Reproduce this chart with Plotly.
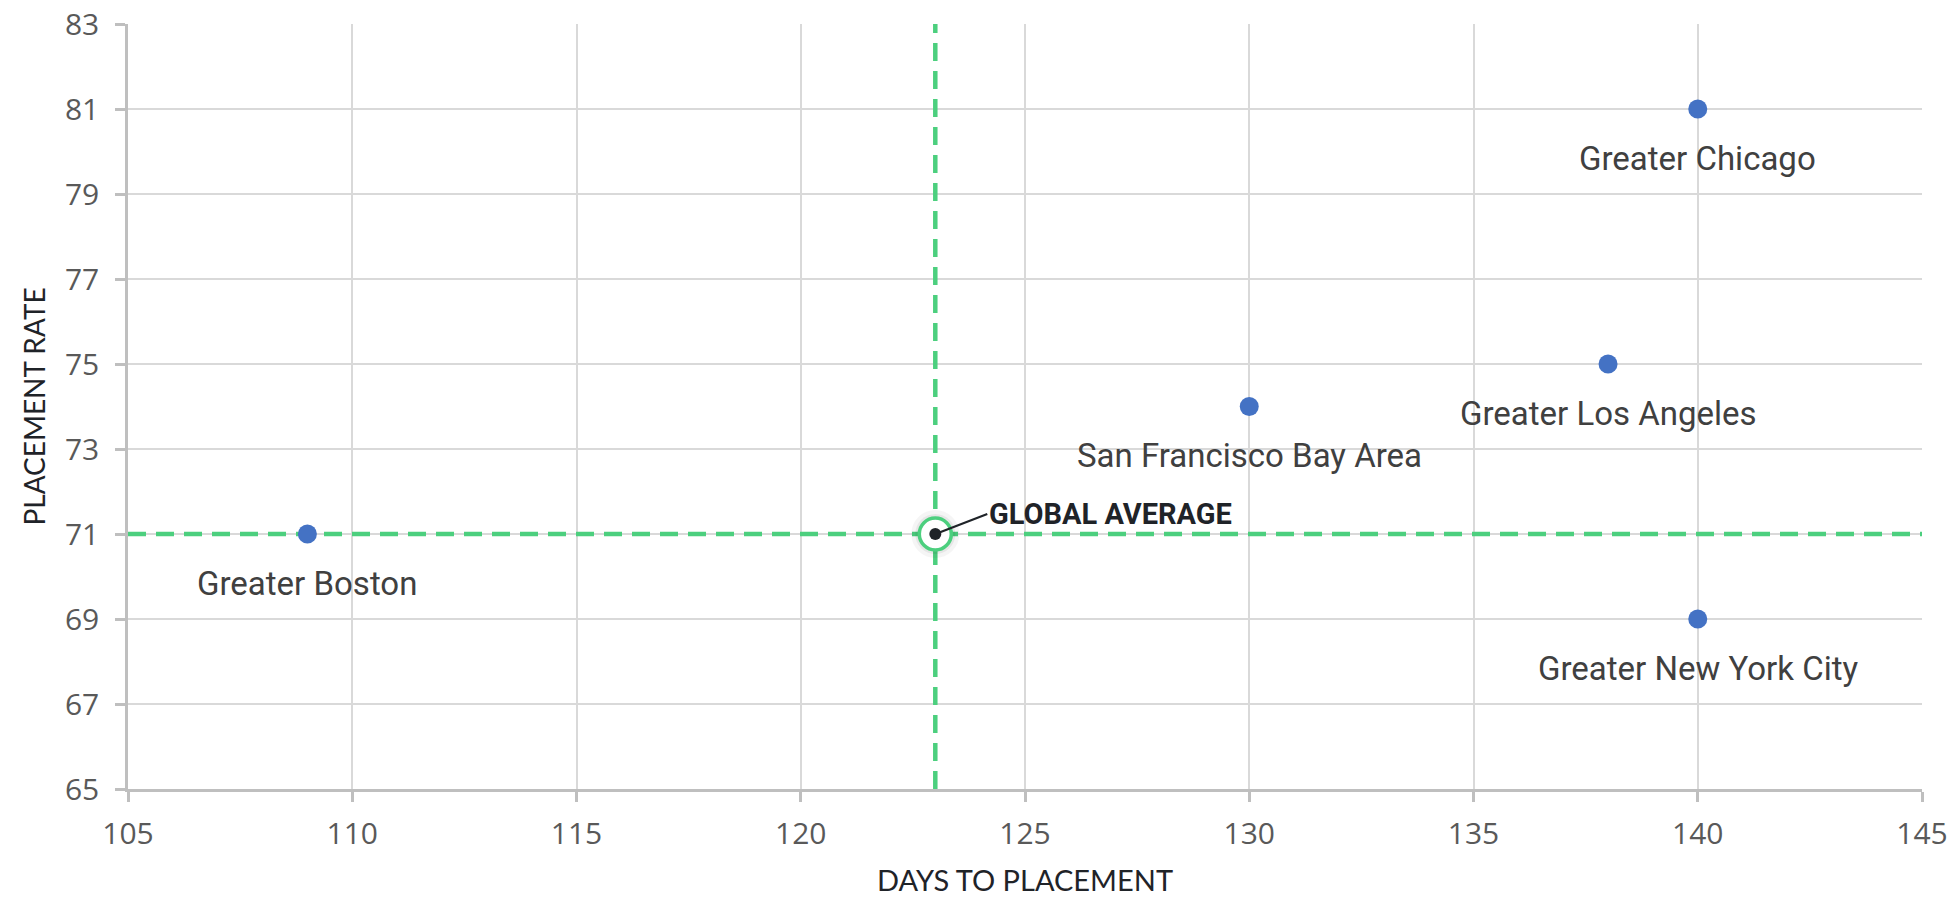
import plotly.graph_objects as go

# Metro areas: days to placement vs placement rate
cities = [
    "Greater Boston",
    "San Francisco Bay Area",
    "Greater Los Angeles",
    "Greater Chicago",
    "Greater New York City",
]
days = [109, 130, 138, 140, 140]
rate = [71, 74, 75, 81, 69]

avg_label = "GLOBAL AVERAGE"
avg_days = 123
avg_rate = 71

x_range = [105, 145]
y_range = [65, 83]

GREEN = "#4ccf7e"
BLUE = "#4472c4"
INK = "#1f2328"

fig = go.Figure()

# Average reference lines
fig.add_trace(go.Scatter(
    x=x_range, y=[avg_rate, avg_rate], mode="lines",
    line=dict(color=GREEN, width=4.5, dash="18px,10px"),
    hoverinfo="skip", showlegend=False,
))
fig.add_trace(go.Scatter(
    x=[avg_days, avg_days], y=y_range, mode="lines",
    line=dict(color=GREEN, width=4.5, dash="18px,10px"),
    hoverinfo="skip", showlegend=False,
))

# City points
fig.add_trace(go.Scatter(
    x=days, y=rate, mode="markers",
    marker=dict(size=19, color=BLUE, line=dict(width=0)),
    showlegend=False, hovertext=cities,
))

# Global average marker: soft glow, ringed disc, centre dot
fig.add_trace(go.Scatter(
    x=[avg_days], y=[avg_rate], mode="markers",
    marker=dict(size=48, color="rgba(0,0,0,0.04)", line=dict(width=0)),
    hoverinfo="skip", showlegend=False,
))
fig.add_trace(go.Scatter(
    x=[avg_days], y=[avg_rate], mode="markers",
    marker=dict(size=40, color="rgba(0,0,0,0.06)", line=dict(width=0)),
    hoverinfo="skip", showlegend=False,
))
fig.add_trace(go.Scatter(
    x=[avg_days], y=[avg_rate], mode="markers",
    marker=dict(size=32, color="white", line=dict(color=GREEN, width=3.5)),
    hoverinfo="skip", showlegend=False,
))
fig.add_trace(go.Scatter(
    x=[avg_days], y=[avg_rate], mode="markers",
    marker=dict(size=12, color=INK, line=dict(width=0)),
    showlegend=False, hovertext=[avg_label],
))

# City labels beneath each point
for name, xv, yv in zip(cities, days, rate):
    fig.add_annotation(
        x=xv, y=yv, text=name, showarrow=False,
        xanchor="center", yanchor="middle", yshift=-49,
        font=dict(family="Roboto", size=33, color="#404040"),
    )

# Global average callout
fig.add_annotation(
    x=avg_days, y=avg_rate, text=f"<b>{avg_label}</b>",
    showarrow=True, arrowhead=0, arrowwidth=2.2, arrowcolor=INK,
    ax=52, ay=-20, xanchor="left", yanchor="middle", standoff=3,
    font=dict(family="Roboto", size=29, color=INK),
)

axis_common = dict(
    showgrid=True, gridcolor="#d9d9d9", gridwidth=2,
    showline=True, linecolor="#bfbfbf", linewidth=2.5,
    ticks="outside", ticklen=10, tickwidth=2.5, tickcolor="#bfbfbf",
    zeroline=False, automargin=False,
    tickfont=dict(family="Open Sans", size=30, color="#595959"),
)

fig.update_xaxes(
    range=x_range, dtick=5, tick0=105, ticklabelstandoff=6,
    title=dict(text="DAYS TO PLACEMENT", standoff=30,
               font=dict(family="Lato", size=29, color=INK)),
    **axis_common,
)
fig.update_yaxes(
    range=y_range, dtick=2, tick0=65, ticklabelstandoff=10,
    title=dict(text="PLACEMENT RATE", standoff=12,
               font=dict(family="Lato", size=28, color=INK)),
    **axis_common,
)

fig.update_layout(
    width=1950, height=897,
    margin=dict(l=128, r=28, t=24, b=108),
    plot_bgcolor="white", paper_bgcolor="white",
    showlegend=False,
)

fig.write_html("out.html")
